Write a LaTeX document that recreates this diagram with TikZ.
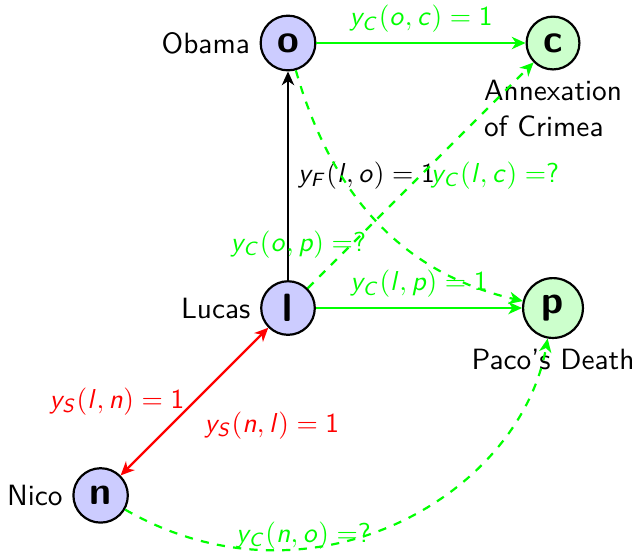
\documentclass[tikz,border=0pt]{standalone}
\usepackage{amsmath,amssymb}
\usepackage{tikz}
\usetikzlibrary{arrows.meta, positioning}

% sans italic letters for the edge variables
\DeclareMathAlphabet{\mathsfit}{OT1}{cmss}{m}{sl}
\newcommand{\yvar}[3]{\mathsfit{y}_{\mathsfit{#1}}(\mathsfit{#2}, \mathsfit{#3})}

\begin{document}
\begin{tikzpicture}[
    every node/.style={font=\fontsize{10.7pt}{13pt}\selectfont\sffamily},
    agent/.style={circle, draw=black, fill=blue!20, thick, font=\Large\bfseries\sffamily},
    event/.style={circle, draw=black, fill=green!20, thick, font=\Large\bfseries\sffamily},
    val/.style={font=\fontsize{10pt}{12pt}\selectfont\sffamily},
    arrow/.style={-{Stealth[length=5pt, width=4.5pt, inset=1.5pt]}, thick},
    cause/.style={arrow, green},
    guess/.style={cause, dashed}
]
    \useasboundingbox (-3.695,-3.195) rectangle (4.439,3.952);

    % People
    \node[agent, label=left:Lucas] (l) at (0,0) {l};
    \node[agent, label=left:Obama] (o) at (0,3.4) {o};
    \node[agent, label=left:Nico] (n) at (-135:3.4) {n};

    % Events
    \node[event, label={[align=left]below:Annexation\\of Crimea}] (c) at (3.4,3.4) {c};
    \node[event, label=below:Paco's Death] (p) at (3.4,0) {p};

    % Known links
    \draw[cause] (o) -- node[val, above] {$\yvar{C}{o}{c} = \mathsf{1}$} (c);
    \draw[arrow] (l) -- node[val, right] {$\yvar{F}{l}{o} = \mathsf{1}$} (o);
    \draw[cause] (l) -- node[val, above] {$\yvar{C}{l}{p} = \mathsf{1}$} (p);
    \draw[red, thick, {Stealth[length=5pt, width=4.5pt, inset=1.5pt]}-{Stealth[length=5pt, width=4.5pt, inset=1.5pt]}]
        (l) -- node[val, left] {$\yvar{S}{l}{n} = \mathsf{1}$} node[val, below right] {$\yvar{S}{n}{l} = \mathsf{1}$} (n);

    % Unknown links
    \draw[guess] (l) -- node[val, right] {$\yvar{C}{l}{c} =$?} (c);
    \draw[guess] (o) to[out=-74, in=167] node[val, below left] {$\yvar{C}{o}{p} =$?} (p);
    \draw[guess] (n) to[out=-30, in=-100, out looseness=1.2, in looseness=0.9]
        node[val, pos=0.32, above, yshift=-4pt] {$\yvar{C}{n}{o} =$?} (p);
\end{tikzpicture}
\end{document}
